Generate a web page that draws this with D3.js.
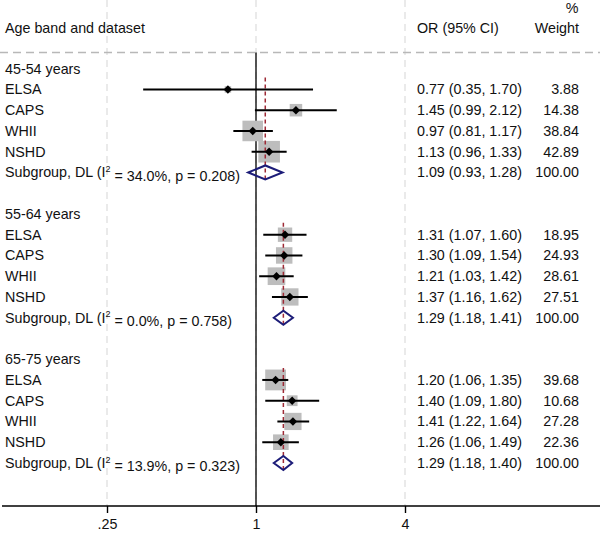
<!DOCTYPE html>
<meta charset="utf-8">
<script src="https://d3js.org/d3.v7.min.js"></script>
<style>
  body { margin: 0; background: #fff; }
  text { font-family: Arial, "Liberation Sans", sans-serif; font-size: 14.3px; fill: #111; }
</style>
<div id="my_dataviz"></div>
<script>

// data
var ageBands = ["45-54 years", "55-64 years", "65-75 years"];
var datasets = ["ELSA", "CAPS", "WHII", "NSHD"];
var orEst  = [[0.77, 1.45, 0.97, 1.13], [1.31, 1.30, 1.21, 1.37], [1.20, 1.40, 1.41, 1.26]];
var ciLow  = [[0.35, 0.99, 0.81, 0.96], [1.07, 1.09, 1.03, 1.16], [1.06, 1.09, 1.22, 1.06]];
var ciHigh = [[1.70, 2.12, 1.17, 1.33], [1.60, 1.54, 1.42, 1.62], [1.35, 1.80, 1.64, 1.49]];
var weights = [[3.88, 14.38, 38.84, 42.89], [18.95, 24.93, 28.61, 27.51], [39.68, 10.68, 27.28, 22.36]];
var subOR   = [1.09, 1.29, 1.29];
var subLow  = [0.93, 1.18, 1.18];
var subHigh = [1.28, 1.41, 1.40];
var iSquared = ["34.0", "0.0", "13.9"];
var pValues  = ["0.208", "0.758", "0.323"];
var xTicks = [0.25, 1, 4];
var xTickLabels = [".25", "1", "4"];

var width = 600, height = 533;
var axisY = 506, headerLine = 52.5;

var svg = d3.select("#my_dataviz")
  .append("svg")
    .attr("width", width)
    .attr("height", height);

// log scale on OR
var x = d3.scaleLog().base(2)
  .domain([0.25, 4])
  .range([107, 405]);

// row positions (7 rows per age band)
var y = d3.scaleLinear()
  .domain([0, 20])
  .range([68.7, 68.7 + 20 * 20.75]);

var fmt = d3.format(".2f");

// grid lines at ticks
svg.selectAll(".grid")
  .data(xTicks)
  .enter()
  .append("line")
    .attr("x1", function(d) { return x(d); })
    .attr("x2", function(d) { return x(d); })
    .attr("y1", 0)
    .attr("y2", axisY)
    .attr("stroke", "#dcdcdc")
    .attr("stroke-width", 1.2)
    .attr("stroke-dasharray", "7,5");

// header separator
svg.append("line")
  .attr("x1", 0).attr("x2", width)
  .attr("y1", headerLine).attr("y2", headerLine)
  .attr("stroke", "#b8b8b8")
  .attr("stroke-width", 1.3)
  .attr("stroke-dasharray", "8,5");

// null line
svg.append("line")
  .attr("x1", x(1)).attr("x2", x(1))
  .attr("y1", headerLine).attr("y2", axisY)
  .attr("stroke", "#111")
  .attr("stroke-width", 1.4);

// headers
svg.append("text").attr("x", 5).attr("y", 28).attr("dy", "0.35em").text("Age band and dataset");
svg.append("text").attr("x", 417).attr("y", 28).attr("dy", "0.35em").text("OR (95% CI)");
svg.append("text").attr("x", 572).attr("y", 8).attr("dy", "0.35em").attr("text-anchor", "middle").text("%");
svg.append("text").attr("x", 579).attr("y", 28).attr("dy", "0.35em").attr("text-anchor", "end").text("Weight");

ageBands.forEach(function(band, g) {
  var r0 = g * 7;

  svg.append("text")
    .attr("x", 5).attr("y", y(r0)).attr("dy", "0.35em")
    .text(band);

  var rows = datasets.map(function(name, i) {
    return { name: name, or: orEst[g][i], lo: ciLow[g][i], hi: ciHigh[g][i], w: weights[g][i], row: r0 + 1 + i };
  });

  // weight boxes
  svg.selectAll(".box" + g)
    .data(rows)
    .enter()
    .append("rect")
      .attr("x", function(d) { return x(d.or) - Math.sqrt(d.w) * 1.65; })
      .attr("y", function(d) { return y(d.row) - Math.sqrt(d.w) * 1.65; })
      .attr("width", function(d) { return Math.sqrt(d.w) * 3.3; })
      .attr("height", function(d) { return Math.sqrt(d.w) * 3.3; })
      .attr("fill", "#bdbdbd");

  // subgroup estimate line
  svg.append("line")
    .attr("x1", x(subOR[g])).attr("x2", x(subOR[g]))
    .attr("y1", y(r0 + 1) - 12).attr("y2", y(r0 + 5) + 8)
    .attr("stroke", "#9e2a36")
    .attr("stroke-width", 1.5)
    .attr("stroke-dasharray", "4,3");

  // CI lines
  svg.selectAll(".ci" + g)
    .data(rows)
    .enter()
    .append("line")
      .attr("x1", function(d) { return x(d.lo); })
      .attr("x2", function(d) { return x(d.hi); })
      .attr("y1", function(d) { return y(d.row); })
      .attr("y2", function(d) { return y(d.row); })
      .attr("stroke", "#000")
      .attr("stroke-width", 2);

  // point estimates
  svg.selectAll(".pt" + g)
    .data(rows)
    .enter()
    .append("path")
      .attr("d", function(d) {
        var cx = x(d.or), cy = y(d.row), s = 4.2;
        return "M" + (cx - s) + "," + cy + "L" + cx + "," + (cy - s) + "L" + (cx + s) + "," + cy + "L" + cx + "," + (cy + s) + "Z";
      })
      .attr("fill", "#000");

  // row labels and numbers
  rows.forEach(function(d) {
    svg.append("text").attr("x", 5).attr("y", y(d.row)).attr("dy", "0.35em").text(d.name);
    svg.append("text").attr("x", 417).attr("y", y(d.row)).attr("dy", "0.35em")
      .text(fmt(d.or) + " (" + fmt(d.lo) + ", " + fmt(d.hi) + ")");
    svg.append("text").attr("x", 579).attr("y", y(d.row)).attr("dy", "0.35em").attr("text-anchor", "end")
      .text(fmt(d.w));
  });

  // subgroup diamond
  var sy = y(r0 + 5);
  svg.append("path")
    .attr("d", "M" + x(subLow[g]) + "," + sy + "L" + x(subOR[g]) + "," + (sy - 7) + "L" + x(subHigh[g]) + "," + sy + "L" + x(subOR[g]) + "," + (sy + 7) + "Z")
    .attr("fill", "none")
    .attr("stroke", "#1c1c78")
    .attr("stroke-width", 2);

  var lab = svg.append("text").attr("x", 5).attr("y", sy).attr("dy", "0.35em");
  lab.append("tspan").text("Subgroup, DL (I");
  lab.append("tspan").attr("dy", "-0.6em").style("font-size", "9px").text("2");
  lab.append("tspan").attr("dy", "0.6em").text(" = " + iSquared[g] + "%, p = " + pValues[g] + ")");

  svg.append("text").attr("x", 417).attr("y", sy).attr("dy", "0.35em")
    .text(fmt(subOR[g]) + " (" + fmt(subLow[g]) + ", " + fmt(subHigh[g]) + ")");
  svg.append("text").attr("x", 579).attr("y", sy).attr("dy", "0.35em").attr("text-anchor", "end")
    .text(fmt(100));
});

// x axis
var xAxis = svg.append("g")
  .attr("transform", "translate(0," + axisY + ")")
  .call(d3.axisBottom(x).tickValues(xTicks).tickSize(7).tickPadding(6)
    .tickFormat(function(d, i) { return xTickLabels[i]; }));
xAxis.select(".domain").remove();
xAxis.selectAll(".tick line").attr("stroke", "#000").attr("stroke-width", 1.4);
xAxis.selectAll(".tick text").style("font-family", "Arial, 'Liberation Sans', sans-serif").style("font-size", "14.3px").attr("fill", "#111");
xAxis.append("line")
  .attr("x1", 2).attr("x2", width)
  .attr("stroke", "#000")
  .attr("stroke-width", 1.4);

</script>
